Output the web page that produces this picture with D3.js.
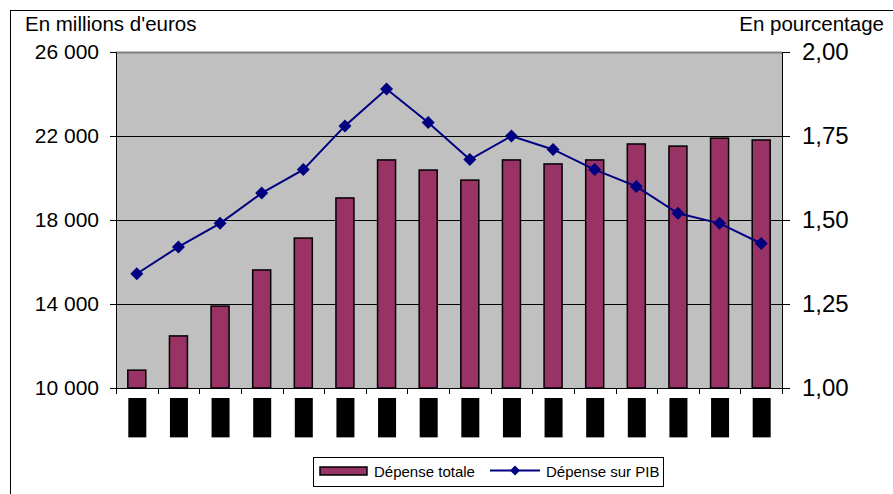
<!DOCTYPE html>
<html><head><meta charset="utf-8">
<script src="https://cdn.jsdelivr.net/npm/d3@7"></script>
<style>body{margin:0;background:#fff;} svg{display:block;font-family:"Liberation Sans",Arial,sans-serif;}</style>
</head><body>
<svg id="c" width="893" height="494"></svg>
<script>
const categories = ["1990","1991","1992","1993","1994","1995","1996","1997","1998","1999","2000","2001","2002","2003","2004","2005"];
const depenseTotale = [10850,12480,13900,15620,17140,19050,20860,20380,19900,20860,20670,20860,21620,21520,21900,21810];
const depensePIB = [1.34,1.42,1.49,1.58,1.65,1.78,1.89,1.79,1.68,1.75,1.71,1.65,1.60,1.52,1.49,1.43];
const leftTicks = [10000,14000,18000,22000,26000];
const rightTicks = [1.00,1.25,1.50,1.75,2.00];
const seriesNames = ["Dépense totale","Dépense sur PIB"];

const svg = d3.select("#c");
const L=116,R=782,T=52,B=388;
const x = d3.scaleBand().domain(categories).range([L,R]);
const yL = d3.scaleLinear().domain([10000,26000]).range([B,T]);
const yR = d3.scaleLinear().domain([1,2]).range([B,T]);
const fmtL = d => d3.format(",")(d).replace(/,/g," ");
const fmtR = d => d.toFixed(2).replace(".",",");

// outer frame
svg.append("rect").attr("x",10.5).attr("y",10.5).attr("width",900).attr("height",500)
  .attr("fill","none").attr("stroke","#000").attr("stroke-width",1);

// plot background
svg.append("rect").attr("x",L).attr("y",T).attr("width",R-L).attr("height",B-T).attr("fill","#c0c0c0");
svg.append("line").attr("x1",L).attr("x2",R).attr("y1",T+0.5).attr("y2",T+0.5).attr("stroke","#808080").attr("stroke-width",2);

// gridlines
svg.append("g").selectAll("line").data(leftTicks.slice(1,-1)).join("line")
  .attr("x1",L).attr("x2",R).attr("y1",d=>Math.round(yL(d))+0.5).attr("y2",d=>Math.round(yL(d))+0.5)
  .attr("stroke","#000").attr("stroke-width",1);

// bars
svg.append("g").selectAll("rect").data(depenseTotale).join("rect")
  .attr("x",(d,i)=>x(categories[i])+x.bandwidth()/2-9)
  .attr("width",18)
  .attr("y",d=>yL(d))
  .attr("height",d=>B-yL(d))
  .attr("fill","#993366").attr("stroke","#000").attr("stroke-width",1.5);

// axes
const gl = svg.append("g").attr("transform",`translate(${L},0)`)
  .call(d3.axisLeft(yL).tickValues(leftTicks).tickFormat(fmtL).tickSize(6).tickPadding(11));
gl.select(".domain").attr("stroke","#000");
gl.selectAll("text").attr("font-size",21).attr("fill","#000").attr("font-family","Liberation Sans, Arial, sans-serif");

const gr = svg.append("g").attr("transform",`translate(${R},0)`)
  .call(d3.axisRight(yR).tickValues(rightTicks).tickFormat(fmtR).tickSize(8).tickPadding(12));
gr.selectAll("text").attr("font-size",24).attr("fill","#000").attr("font-family","Liberation Sans, Arial, sans-serif");

const gx = svg.append("g").attr("transform",`translate(0,${B})`)
  .call(d3.axisBottom(x).tickSize(0).tickFormat(""));
gx.select(".domain").attr("stroke","#000");
// ticks at band boundaries
svg.append("g").selectAll("line").data(categories.concat(["end"])).join("line")
  .attr("x1",(d,i)=>Math.round(L+i*x.step())+0.5).attr("x2",(d,i)=>Math.round(L+i*x.step())+0.5)
  .attr("y1",B).attr("y2",B+6).attr("stroke","#000");

// x labels (obscured, black boxes)
const xl = svg.append("g");
categories.forEach((c,i)=>{
  const cx = x(c)+x.bandwidth()/2+0.5;
  const g = xl.append("g");
  const r = g.append("rect").attr("fill","#000");
  const t = g.append("text").text(c).attr("font-size",15).attr("fill","#000")
    .attr("text-anchor","end").attr("transform",`translate(${cx+5},${402}) rotate(-90)`);
  const bb = t.node().getBBox();
  r.attr("x",cx-9).attr("y",398).attr("width",18).attr("height",bb.width+6);
});

// line
const line = d3.line().x((d,i)=>x(categories[i])+x.bandwidth()/2).y(d=>yR(d));
svg.append("path").datum(depensePIB).attr("d",line).attr("fill","none").attr("stroke","#000080").attr("stroke-width",2);
svg.append("g").selectAll("path").data(depensePIB).join("path")
  .attr("d","M0,-6.5L6.5,0L0,6.5L-6.5,0Z")
  .attr("transform",(d,i)=>`translate(${x(categories[i])+x.bandwidth()/2},${yR(d)})`)
  .attr("fill","#000080");

// axis titles
svg.append("text").attr("x",25).attr("y",31).attr("font-size",20.5).text("En millions d'euros");
svg.append("text").attr("x",884).attr("y",31).attr("text-anchor","end").attr("font-size",20.5).text("En pourcentage");

// legend
const lg = svg.append("g");
lg.append("rect").attr("x",313.5).attr("y",457.5).attr("width",350).attr("height",29).attr("fill","#fff").attr("stroke","#000");
lg.append("rect").attr("x",320).attr("y",467).attr("width",47).attr("height",8).attr("fill","#993366").attr("stroke","#000").attr("stroke-width",1.5);
lg.append("text").attr("x",374).attr("y",476.5).attr("font-size",15).text(seriesNames[0]);
lg.append("line").attr("x1",490).attr("x2",540).attr("y1",470.5).attr("y2",470.5).attr("stroke","#000080").attr("stroke-width",2);
lg.append("path").attr("d","M0,-5L5,0L0,5L-5,0Z").attr("transform","translate(515,470.5)").attr("fill","#000080");
lg.append("text").attr("x",546).attr("y",476.5).attr("font-size",15).text(seriesNames[1]);
</script>
</body></html>
